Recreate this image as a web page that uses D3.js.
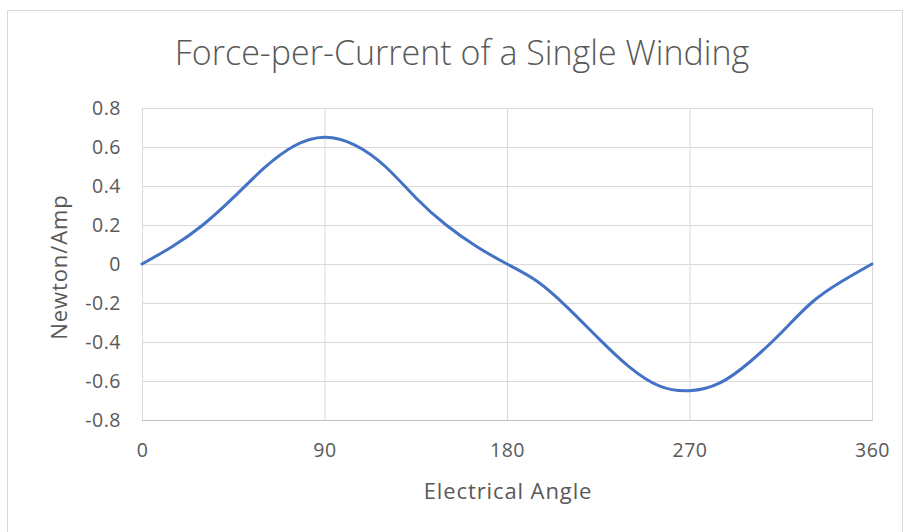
<!DOCTYPE html>
<html>
<head>
<meta charset="utf-8">
<script src="https://cdn.jsdelivr.net/npm/d3@7"></script>
<style>
  body { margin: 0; background: #fff; }
  text { font-family: "Open Sans", "Noto Sans", sans-serif; fill: #595959; }
</style>
</head>
<body>
<div class="chart"></div>
<script>
var svgWidth = 904;
var svgHeight = 532;

var margin = { top: 108, right: 32, bottom: 112, left: 142 };

var width = svgWidth - margin.left - margin.right;
var height = svgHeight - margin.top - margin.bottom;

// electrical angle (deg) and force per current (N/A)
var angles = [0, 15, 30, 45, 60, 75, 90, 105, 120, 135, 150, 165, 180,
  195, 210, 225, 240, 255, 270, 285, 300, 315, 330, 345, 360];
var forces = [0, 0.09, 0.2, 0.34, 0.49, 0.605, 0.65, 0.61, 0.5, 0.34, 0.2, 0.09, 0,
  -0.09, -0.225, -0.38, -0.525, -0.625, -0.65, -0.61, -0.5, -0.355, -0.2, -0.09, 0];

var xTicks = [0, 90, 180, 270, 360];
var yTicks = [0.8, 0.6, 0.4, 0.2, 0, -0.2, -0.4, -0.6, -0.8];

var svg = d3.select(".chart")
  .append("svg")
  .attr("width", svgWidth)
  .attr("height", svgHeight);

// chart frame
svg.append("rect")
  .attr("x", 7.5)
  .attr("y", 10.5)
  .attr("width", 895)
  .attr("height", 540)
  .attr("fill", "none")
  .attr("stroke", "#d9d9d9");

var chartGroup = svg.append("g")
  .attr("transform", `translate(${margin.left}, ${margin.top})`);

var xScale = d3.scaleLinear().domain([0, 360]).range([0, width]);
var yScale = d3.scaleLinear().domain([-0.8, 0.8]).range([height, 0]);

// horizontal gridlines
chartGroup.append("g")
  .call(d3.axisLeft(yScale).tickValues(yTicks).tickSize(-width).tickFormat(""))
  .call(g => g.select(".domain").remove())
  .call(g => g.selectAll("line").attr("stroke", "#d9d9d9"));

// vertical gridlines
chartGroup.append("g")
  .attr("transform", `translate(0, ${height})`)
  .call(d3.axisBottom(xScale).tickValues(xTicks).tickSize(-height).tickFormat(""))
  .call(g => g.select(".domain").attr("stroke", "#bfbfbf"))
  .call(g => g.selectAll("line").attr("stroke", "#d9d9d9"));

// y tick labels (plain hyphen for negatives, like Excel)
chartGroup.append("g")
  .call(d3.axisLeft(yScale).tickValues(yTicks).tickSize(0).tickPadding(21)
    .tickFormat(d => d === 0 ? "0" : d.toFixed(1)))
  .call(g => g.select(".domain").remove())
  .selectAll("text")
  .style("font-size", "19.5px")
  .style("letter-spacing", "0.5px")
  .attr("fill", "#595959");

// x tick labels
chartGroup.append("g")
  .attr("transform", `translate(0, ${height})`)
  .call(d3.axisBottom(xScale).tickValues(xTicks).tickSize(0).tickPadding(23))
  .call(g => g.select(".domain").remove())
  .selectAll("text")
  .style("font-size", "19.5px")
  .style("letter-spacing", "0.5px")
  .attr("fill", "#595959");

// the curve
var line = d3.line()
  .x((d, i) => xScale(angles[i]))
  .y(d => yScale(d))
  .curve(d3.curveNatural);

chartGroup.append("path")
  .datum(forces)
  .attr("d", line)
  .attr("fill", "none")
  .attr("stroke", "#4472c4")
  .attr("stroke-width", 3)
  .attr("stroke-linecap", "round");

// title
svg.append("text")
  .attr("x", 462)
  .attr("y", 65)
  .attr("text-anchor", "middle")
  .style("font-size", "34px")
  .style("font-weight", 300)
  .text("Force-per-Current of a Single Winding");

// axis titles
svg.append("text")
  .attr("x", 508)
  .attr("y", 499)
  .attr("text-anchor", "middle")
  .style("font-size", "22px")
  .style("letter-spacing", "0.9px")
  .text("Electrical Angle");

svg.append("text")
  .attr("transform", "translate(67, 267) rotate(-90)")
  .attr("text-anchor", "middle")
  .style("font-size", "22px")
  .style("letter-spacing", "0.9px")
  .text("Newton/Amp");
</script>
</body>
</html>
